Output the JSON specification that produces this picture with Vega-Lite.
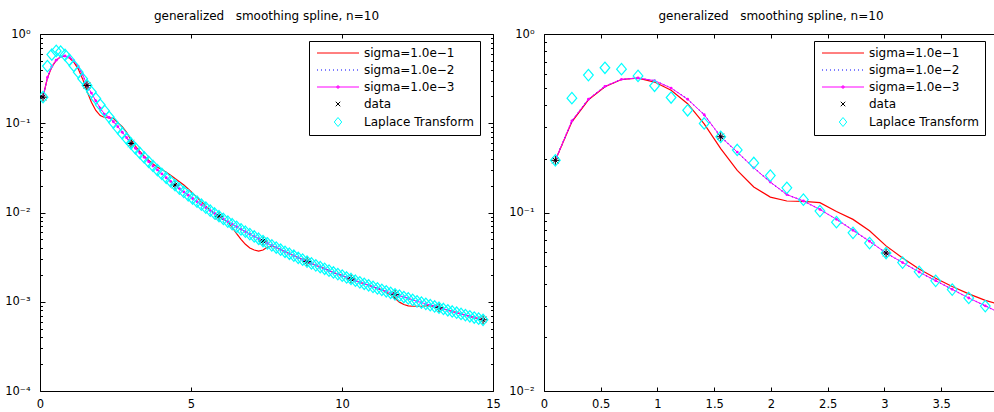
{
"$schema":"https://vega.github.io/schema/vega-lite/v6.json",
"autosize":{"type":"pad"},
"padding":{"left":4,"top":10,"right":0,"bottom":0},
"bounds":"flush",
"spacing":51,
"config":{"view":{"stroke":null},"font":"DejaVu Sans",
"axis":{"labelFont":"DejaVu Sans","labelFontSize":11.5,"labelColor":"#000","tickColor":"#000","domainColor":"#000","tickWidth":1,"domainWidth":1,"labelFlush":false,"labelOverlap":false,"grid":false}},
"datasets":{
"fine":[
{"x":0.1,"r":0.196,"b":0.196,"m":0.196,"l":0.1961},
{"x":0.2457,"r":0.322,"b":0.326,"m":0.326,"l":0.437},
{"x":0.3914,"r":0.428,"b":0.431,"m":0.431,"l":0.5886},
{"x":0.5371,"r":0.507,"b":0.509,"m":0.509,"l":0.647},
{"x":0.6828,"r":0.556,"b":0.557,"m":0.557,"l":0.6352},
{"x":0.8285,"r":0.566,"b":0.567,"m":0.567,"l":0.5826},
{"x":0.9742,"r":0.538,"b":0.548,"m":0.548,"l":0.5129},
{"x":1.1199,"r":0.484,"b":0.498,"m":0.498,"l":0.4408},
{"x":1.2656,"r":0.407,"b":0.431,"m":0.431,"l":0.3739},
{"x":1.4113,"r":0.314,"b":0.353,"m":0.353,"l":0.3153},
{"x":1.557,"r":0.228,"b":0.2656,"m":0.2656,"l":0.2656},
{"x":1.7027,"r":0.172,"b":0.218,"m":0.218,"l":0.224},
{"x":1.8484,"r":0.139,"b":0.178,"m":0.178,"l":0.1895},
{"x":1.9941,"r":0.122,"b":0.148,"m":0.148,"l":0.161},
{"x":2.1398,"r":0.116,"b":0.126,"m":0.126,"l":0.1375},
{"x":2.2855,"r":0.1153,"b":0.116,"m":0.116,"l":0.118},
{"x":2.4312,"r":0.1135,"b":0.104,"m":0.104,"l":0.1018},
{"x":2.5769,"r":0.1012,"b":0.0916,"m":0.0916,"l":0.0883},
{"x":2.7226,"r":0.0915,"b":0.0795,"m":0.0795,"l":0.0769},
{"x":2.8683,"r":0.079,"b":0.069,"m":0.069,"l":0.0674},
{"x":3.014,"r":0.065,"b":0.0593,"m":0.0593,"l":0.0593},
{"x":3.1597,"r":0.0556,"b":0.0524,"m":0.0524,"l":0.0524},
{"x":3.3054,"r":0.0482,"b":0.0464,"m":0.0464,"l":0.0465},
{"x":3.4511,"r":0.0428,"b":0.0415,"m":0.0415,"l":0.0414},
{"x":3.5968,"r":0.0385,"b":0.0371,"m":0.0371,"l":0.037},
{"x":3.7425,"r":0.035,"b":0.0332,"m":0.0332,"l":0.0332},
{"x":3.8882,"r":0.0322,"b":0.03,"m":0.03,"l":0.0299},
{"x":4.0339,"r":0.0303,"b":0.0271,"m":0.0271,"l":0.02704},
{"x":4.1796,"r":0.0283,"b":0.0245,"m":0.0245,"l":0.02451},
{"x":4.3253,"r":0.0261,"b":0.0223,"m":0.0223,"l":0.02227},
{"x":4.471,"r":0.024,"b":0.0203,"m":0.0203,"l":0.0203},
{"x":4.6167,"r":0.0221,"b":0.01854,"m":0.01854,"l":0.01854},
{"x":4.7624,"r":0.0203,"b":0.01699,"m":0.01699,"l":0.01699},
{"x":4.9081,"r":0.0184,"b":0.01559,"m":0.01559,"l":0.01559},
{"x":5.0538,"r":0.0165,"b":0.01435,"m":0.01435,"l":0.01435},
{"x":5.1995,"r":0.0148,"b":0.01323,"m":0.01323,"l":0.01323},
{"x":5.3452,"r":0.0132,"b":0.01223,"m":0.01223,"l":0.01223},
{"x":5.4909,"r":0.0118,"b":0.01132,"m":0.01132,"l":0.01132},
{"x":5.6366,"r":0.0106,"b":0.0105,"m":0.0105,"l":0.0105},
{"x":5.7823,"r":0.00975,"b":0.00975,"m":0.00975,"l":0.00975},
{"x":5.928,"r":0.00908,"b":0.00908,"m":0.00908,"l":0.00908},
{"x":6.0737,"r":0.00846,"b":0.00846,"m":0.00846,"l":0.00846},
{"x":6.2194,"r":0.0078,"b":0.0079,"m":0.0079,"l":0.0079},
{"x":6.3651,"r":0.0068,"b":0.00739,"m":0.00739,"l":0.00739},
{"x":6.5108,"r":0.0058,"b":0.00692,"m":0.00692,"l":0.00692},
{"x":6.6565,"r":0.005,"b":0.00648,"m":0.00648,"l":0.00648},
{"x":6.8022,"r":0.0044,"b":0.00609,"m":0.00609,"l":0.00609},
{"x":6.9479,"r":0.004,"b":0.00572,"m":0.00572,"l":0.00572},
{"x":7.0936,"r":0.0038,"b":0.00539,"m":0.00539,"l":0.00539},
{"x":7.2393,"r":0.0037,"b":0.00508,"m":0.00508,"l":0.00508},
{"x":7.385,"r":0.0038,"b":0.00479,"m":0.00479,"l":0.00479},
{"x":7.5307,"r":0.0041,"b":0.00452,"m":0.00452,"l":0.00452},
{"x":7.6764,"r":0.0042,"b":0.00428,"m":0.00428,"l":0.00428},
{"x":7.8221,"r":0.00405,"b":0.00405,"m":0.00405,"l":0.00405},
{"x":7.9678,"r":0.00383,"b":0.00383,"m":0.00383,"l":0.00383},
{"x":8.1135,"r":0.00363,"b":0.00363,"m":0.00363,"l":0.00363},
{"x":8.2592,"r":0.00345,"b":0.00345,"m":0.00345,"l":0.00345},
{"x":8.4049,"r":0.00328,"b":0.00328,"m":0.00328,"l":0.00328},
{"x":8.5506,"r":0.00311,"b":0.00311,"m":0.00311,"l":0.00311},
{"x":8.6963,"r":0.00296,"b":0.00296,"m":0.00296,"l":0.00296},
{"x":8.842,"r":0.00282,"b":0.00282,"m":0.00282,"l":0.00282},
{"x":8.9877,"r":0.00269,"b":0.00269,"m":0.00269,"l":0.00269},
{"x":9.1334,"r":0.00256,"b":0.00256,"m":0.00256,"l":0.00256},
{"x":9.2791,"r":0.00245,"b":0.00245,"m":0.00245,"l":0.00245},
{"x":9.4248,"r":0.00234,"b":0.00234,"m":0.00234,"l":0.00234},
{"x":9.5705,"r":0.00223,"b":0.00223,"m":0.00223,"l":0.00223},
{"x":9.7162,"r":0.00213,"b":0.00213,"m":0.00213,"l":0.00213},
{"x":9.8619,"r":0.00204,"b":0.00204,"m":0.00204,"l":0.00204},
{"x":10.0076,"r":0.00196,"b":0.00196,"m":0.00196,"l":0.00196},
{"x":10.1533,"r":0.00187,"b":0.00187,"m":0.00187,"l":0.00187},
{"x":10.299,"r":0.0018,"b":0.0018,"m":0.0018,"l":0.0018},
{"x":10.4447,"r":0.00172,"b":0.00172,"m":0.00172,"l":0.00172},
{"x":10.5904,"r":0.00165,"b":0.00165,"m":0.00165,"l":0.00165},
{"x":10.7361,"r":0.00159,"b":0.00159,"m":0.00159,"l":0.00159},
{"x":10.8818,"r":0.00153,"b":0.00153,"m":0.00153,"l":0.00153},
{"x":11.0275,"r":0.00147,"b":0.00147,"m":0.00147,"l":0.00147},
{"x":11.1732,"r":0.00141,"b":0.00141,"m":0.00141,"l":0.00141},
{"x":11.3189,"r":0.00136,"b":0.00136,"m":0.00136,"l":0.00136},
{"x":11.4646,"r":0.00128,"b":0.00131,"m":0.00131,"l":0.00131},
{"x":11.6103,"r":0.00119,"b":0.00126,"m":0.00126,"l":0.00126},
{"x":11.756,"r":0.00109,"b":0.00121,"m":0.00121,"l":0.00121},
{"x":11.9017,"r":0.00099,"b":0.00117,"m":0.00117,"l":0.00117},
{"x":12.0474,"r":0.00093,"b":0.00113,"m":0.00113,"l":0.00113},
{"x":12.1931,"r":0.0009,"b":0.00109,"m":0.00109,"l":0.00109},
{"x":12.3388,"r":0.00089,"b":0.00105,"m":0.00105,"l":0.00105},
{"x":12.4845,"r":0.00089,"b":0.00101,"m":0.00101,"l":0.00101},
{"x":12.6302,"r":0.00089,"b":0.00098,"m":0.00098,"l":0.00098},
{"x":12.7759,"r":0.0009,"b":0.000947,"m":0.000947,"l":0.000947},
{"x":12.9216,"r":0.000905,"b":0.000916,"m":0.000916,"l":0.000916},
{"x":13.0673,"r":0.000886,"b":0.000886,"m":0.000886,"l":0.000886},
{"x":13.213,"r":0.000857,"b":0.000857,"m":0.000857,"l":0.000857},
{"x":13.3587,"r":0.00083,"b":0.00083,"m":0.00083,"l":0.00083},
{"x":13.5044,"r":0.000803,"b":0.000803,"m":0.000803,"l":0.000803},
{"x":13.6501,"r":0.000778,"b":0.000778,"m":0.000778,"l":0.000778},
{"x":13.7958,"r":0.000754,"b":0.000754,"m":0.000754,"l":0.000754},
{"x":13.9415,"r":0.000731,"b":0.000731,"m":0.000731,"l":0.000731},
{"x":14.0872,"r":0.000708,"b":0.000708,"m":0.000708,"l":0.000708},
{"x":14.2329,"r":0.000687,"b":0.000687,"m":0.000687,"l":0.000687},
{"x":14.3786,"r":0.000666,"b":0.000666,"m":0.000666,"l":0.000666},
{"x":14.5243,"r":0.000647,"b":0.000647,"m":0.000647,"l":0.000647},
{"x":14.67,"r":0.000628,"b":0.000628,"m":0.000628,"l":0.000628}
],
"pts":[
{"x":0.1,"y":0.1961},{"x":1.557,"y":0.2656},{"x":3.014,"y":0.0593},{"x":4.471,"y":0.0203},{"x":5.928,"y":0.00908},{"x":7.385,"y":0.00479},{"x":8.842,"y":0.00282},{"x":10.299,"y":0.0018},{"x":11.756,"y":0.00121},{"x":13.213,"y":0.000857},{"x":14.67,"y":0.000628}
]},
"resolve":{"scale":{"color":"independent"},"legend":{"color":"independent"}},
"hconcat":[
{
"width":453,"height":357,
"title":{"text":"generalized\u00a0\u00a0\u00a0smoothing spline, n=10","font":"DejaVu Sans","fontSize":12,"fontWeight":"normal","color":"#000","offset":-4,"frame":"group","baseline":"alphabetic","anchor":"middle"},
"resolve":{"axis":{"x":"independent","y":"independent"}},
"layer":[
{"data":{"name":"fine"},"mark":{"type":"line","strokeWidth":1.2,"clip":true},
"encoding":{
"x":{"field":"x","type":"quantitative","scale":{"domain":[0,15],"nice":false,"zero":false},"axis":{"orient":"bottom","title":null,"values":[0,5,10,15],"format":"~g","tickSize":-4,"labelPadding":11}},
"y":{"field":"r","type":"quantitative","scale":{"type":"log","domain":[0.0001,1],"nice":false},"axis":{"orient":"left","title":null,"values":[0.0001,0.001,0.01,0.1,1],"tickSize":-5,"labelPadding":15,"labelExpr":"datum.value >= 0.5 ? '10⁰' : datum.value >= 0.05 ? '10⁻¹' : datum.value >= 0.005 ? '10⁻²' : datum.value >= 0.0005 ? '10⁻³' : '10⁻⁴'"}},
"color":{"datum":"sigma=1.0e−1","scale":{"domain":["sigma=1.0e−1","sigma=1.0e−2","sigma=1.0e−3","data","Laplace Transform"],"range":["#ff0000","#0000ff","#ff00ff","#000000","#00ffff"]},
"legend":{"title":null,"orient":"none","legendX":269,"legendY":7,"direction":"vertical","strokeColor":"#000","fillColor":"#fff","padding":6,"cornerRadius":0,"labelFont":"DejaVu Sans","labelFontSize":12,"labelColor":"#000","labelLimit":0,"symbolSize":100,"symbolStrokeWidth":1,"rowPadding":5,"symbolOffset":17,"labelOffset":20,
"encode":{"symbols":{"update":{"shape":{"signal":"datum.value === 'data' ? 'M-0.45,-0.45L0.45,0.45M-0.45,0.45L0.45,-0.45' : datum.value === 'Laplace Transform' ? 'M0,-0.9L0.75,0L0,0.9L-0.75,0Z' : datum.value === 'sigma=1.0e−3' ? 'M-4.2,0L4.2,0M-0.2,-0.2L0.2,-0.2L0.2,0.2L-0.2,0.2Z' : 'M-4.2,0L4.2,0'"},"strokeDash":{"signal":"datum.value === 'sigma=1.0e−2' ? [1,3] : []"},"fill":{"value":"transparent"},"size":{"value":100},"strokeWidth":{"value":1}}}}}}
}},
{"data":{"name":"fine"},"mark":{"type":"line","strokeWidth":1.2,"strokeDash":[1,3],"clip":true},
"encoding":{
"x":{"field":"x","type":"quantitative","scale":{"domain":[0,15],"nice":false,"zero":false},"axis":{"orient":"top","title":null,"values":[0,5,10,15],"labels":false,"tickSize":-4}},
"y":{"field":"b","type":"quantitative","scale":{"type":"log","domain":[0.0001,1],"nice":false},"axis":{"orient":"right","title":null,"values":[0.0001,0.001,0.01,0.1,1],"labels":false,"tickSize":-5}},
"color":{"datum":"sigma=1.0e−2"}}},
{"data":{"name":"fine"},"mark":{"type":"line","strokeWidth":1,"clip":true},
"encoding":{
"x":{"field":"x","type":"quantitative","scale":{"domain":[0,15],"nice":false,"zero":false},"axis":null},
"y":{"field":"m","type":"quantitative","scale":{"type":"log","domain":[0.0001,1],"nice":false},"axis":{"orient":"left","title":null,"values":[0.0002,0.0003,0.0004,0.0005,0.0006,0.0007,0.0008,0.0009,0.002,0.003,0.004,0.005,0.006,0.007,0.008,0.009,0.02,0.03,0.04,0.05,0.06,0.07,0.08,0.09,0.2,0.3,0.4,0.5,0.6,0.7,0.8,0.9],"labels":false,"domain":false,"tickSize":-2.5}},
"color":{"datum":"sigma=1.0e−3"}}},
{"data":{"name":"fine"},"mark":{"type":"point","filled":true,"color":"#ff00ff","size":8,"opacity":1,"clip":true},
"encoding":{
"x":{"field":"x","type":"quantitative","scale":{"domain":[0,15],"nice":false,"zero":false},"axis":null},
"y":{"field":"m","type":"quantitative","scale":{"type":"log","domain":[0.0001,1],"nice":false},"axis":{"orient":"right","title":null,"values":[0.0002,0.0003,0.0004,0.0005,0.0006,0.0007,0.0008,0.0009,0.002,0.003,0.004,0.005,0.006,0.007,0.008,0.009,0.02,0.03,0.04,0.05,0.06,0.07,0.08,0.09,0.2,0.3,0.4,0.5,0.6,0.7,0.8,0.9],"labels":false,"domain":false,"tickSize":-2.5}}}},
{"data":{"name":"pts"},"mark":{"type":"point","filled":false,"opacity":1,"strokeWidth":1,"size":81,"shape":"M-1,0L1,0M0,-1L0,1M-0.7,-0.7L0.7,0.7M-0.7,0.7L0.7,-0.7","clip":true},
"encoding":{
"x":{"field":"x","type":"quantitative","scale":{"domain":[0,15],"nice":false,"zero":false},"axis":null},
"y":{"field":"y","type":"quantitative","scale":{"type":"log","domain":[0.0001,1],"nice":false},"axis":null},
"color":{"datum":"data"}}},
{"data":{"name":"fine"},"mark":{"type":"point","filled":false,"opacity":1,"strokeWidth":1.2,"size":130,"shape":"M0,-1L0.85,0L0,1L-0.85,0Z","clip":true},
"encoding":{
"x":{"field":"x","type":"quantitative","scale":{"domain":[0,15],"nice":false,"zero":false},"axis":null},
"y":{"field":"l","type":"quantitative","scale":{"type":"log","domain":[0.0001,1],"nice":false},"axis":null},
"color":{"datum":"Laplace Transform"}}}
]},
{
"width":450,"height":357,
"title":{"text":"generalized\u00a0\u00a0\u00a0smoothing spline, n=10","font":"DejaVu Sans","fontSize":12,"fontWeight":"normal","color":"#000","offset":-4,"frame":"group","baseline":"alphabetic","anchor":"middle","dx":2},
"resolve":{"axis":{"x":"independent","y":"independent"}},
"layer":[
{"data":{"name":"fine"},"mark":{"type":"line","strokeWidth":1.2,"clip":true},
"encoding":{
"x":{"field":"x","type":"quantitative","scale":{"domain":[0,3.965],"nice":false,"zero":false},"axis":{"orient":"bottom","title":null,"values":[0,0.5,1,1.5,2,2.5,3,3.5],"format":"~g","tickSize":-4,"labelPadding":11}},
"y":{"field":"r","type":"quantitative","scale":{"type":"log","domain":[0.01,1],"nice":false},"axis":{"orient":"left","title":null,"values":[0.01,0.1,1],"tickSize":-5,"labelPadding":15,"labelExpr":"datum.value >= 0.5 ? '10⁰' : datum.value >= 0.05 ? '10⁻¹' : '10⁻²'"}},
"color":{"datum":"sigma=1.0e−1","scale":{"domain":["sigma=1.0e−1","sigma=1.0e−2","sigma=1.0e−3","data","Laplace Transform"],"range":["#ff0000","#0000ff","#ff00ff","#000000","#00ffff"]},
"legend":{"title":null,"orient":"none","legendX":270,"legendY":7,"direction":"vertical","strokeColor":"#000","fillColor":"#fff","padding":6,"cornerRadius":0,"labelFont":"DejaVu Sans","labelFontSize":12,"labelColor":"#000","labelLimit":0,"symbolSize":100,"symbolStrokeWidth":1,"rowPadding":5,"symbolOffset":17,"labelOffset":20,
"encode":{"symbols":{"update":{"shape":{"signal":"datum.value === 'data' ? 'M-0.45,-0.45L0.45,0.45M-0.45,0.45L0.45,-0.45' : datum.value === 'Laplace Transform' ? 'M0,-0.9L0.75,0L0,0.9L-0.75,0Z' : datum.value === 'sigma=1.0e−3' ? 'M-4.2,0L4.2,0M-0.2,-0.2L0.2,-0.2L0.2,0.2L-0.2,0.2Z' : 'M-4.2,0L4.2,0'"},"strokeDash":{"signal":"datum.value === 'sigma=1.0e−2' ? [1,3] : []"},"fill":{"value":"transparent"},"size":{"value":100},"strokeWidth":{"value":1}}}}}}
}},
{"data":{"name":"fine"},"mark":{"type":"line","strokeWidth":1.2,"strokeDash":[1,3],"clip":true},
"encoding":{
"x":{"field":"x","type":"quantitative","scale":{"domain":[0,3.965],"nice":false,"zero":false},"axis":{"orient":"top","title":null,"values":[0,0.5,1,1.5,2,2.5,3,3.5],"labels":false,"tickSize":-4}},
"y":{"field":"b","type":"quantitative","scale":{"type":"log","domain":[0.01,1],"nice":false},"axis":null},
"color":{"datum":"sigma=1.0e−2"}}},
{"data":{"name":"fine"},"mark":{"type":"line","strokeWidth":1,"clip":true},
"encoding":{
"x":{"field":"x","type":"quantitative","scale":{"domain":[0,3.965],"nice":false,"zero":false},"axis":null},
"y":{"field":"m","type":"quantitative","scale":{"type":"log","domain":[0.01,1],"nice":false},"axis":{"orient":"left","title":null,"values":[0.02,0.03,0.04,0.05,0.06,0.07,0.08,0.09,0.2,0.3,0.4,0.5,0.6,0.7,0.8,0.9],"labels":false,"domain":false,"tickSize":-2.5}},
"color":{"datum":"sigma=1.0e−3"}}},
{"data":{"name":"fine"},"mark":{"type":"point","filled":true,"color":"#ff00ff","size":8,"opacity":1,"clip":true},
"encoding":{
"x":{"field":"x","type":"quantitative","scale":{"domain":[0,3.965],"nice":false,"zero":false},"axis":null},
"y":{"field":"m","type":"quantitative","scale":{"type":"log","domain":[0.01,1],"nice":false},"axis":null}}},
{"data":{"name":"pts"},"mark":{"type":"point","filled":false,"opacity":1,"strokeWidth":1,"size":81,"shape":"M-1,0L1,0M0,-1L0,1M-0.7,-0.7L0.7,0.7M-0.7,0.7L0.7,-0.7","clip":true},
"encoding":{
"x":{"field":"x","type":"quantitative","scale":{"domain":[0,3.965],"nice":false,"zero":false},"axis":null},
"y":{"field":"y","type":"quantitative","scale":{"type":"log","domain":[0.01,1],"nice":false},"axis":null},
"color":{"datum":"data"}}},
{"data":{"name":"fine"},"mark":{"type":"point","filled":false,"opacity":1,"strokeWidth":1.2,"size":130,"shape":"M0,-1L0.85,0L0,1L-0.85,0Z","clip":true},
"encoding":{
"x":{"field":"x","type":"quantitative","scale":{"domain":[0,3.965],"nice":false,"zero":false},"axis":null},
"y":{"field":"l","type":"quantitative","scale":{"type":"log","domain":[0.01,1],"nice":false},"axis":null},
"color":{"datum":"Laplace Transform"}}}
]}
]}
